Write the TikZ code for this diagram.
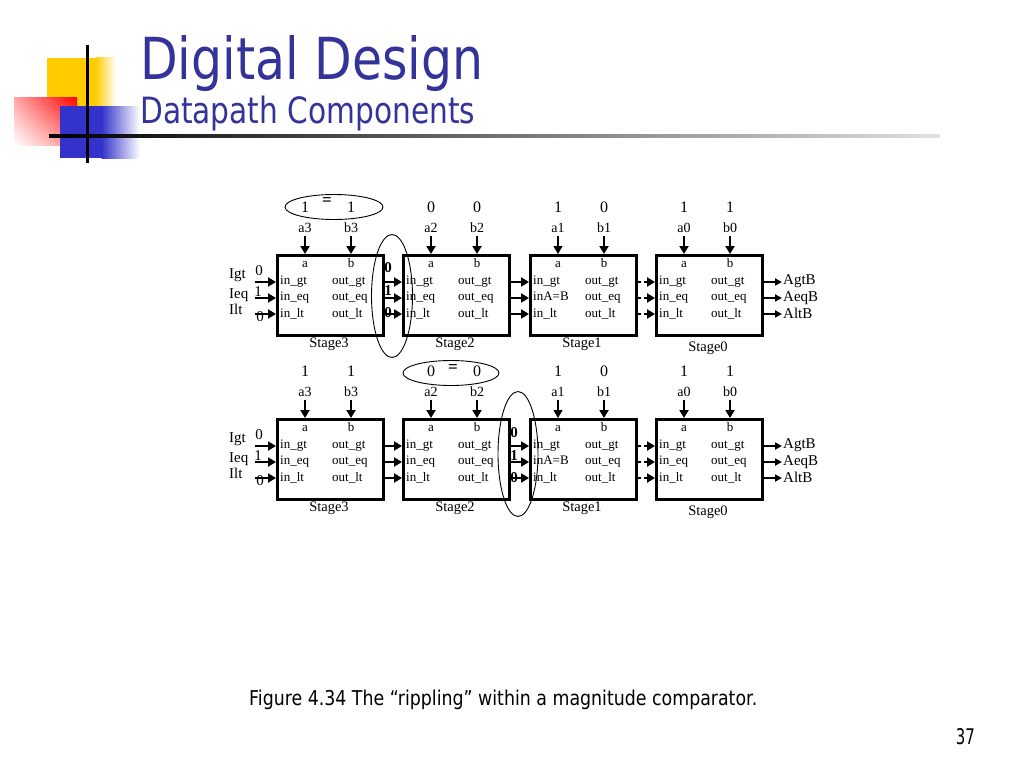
\documentclass[tikz,border=0pt]{standalone}
\usepackage{fontspec}
\setmainfont{Liberation Serif}
\newfontfamily\tahoma{DejaVu Sans}
\usetikzlibrary{arrows.meta,shapes.geometric,shadings}
\definecolor{titleblue}{RGB}{51,51,153}
\definecolor{logoyellow}{RGB}{255,204,0}
\definecolor{logoblue}{RGB}{51,51,204}
\tikzset{
  stagebox/.style={draw, line width=2.6pt, minimum width=106pt, minimum height=80pt, inner sep=0pt, anchor=north west},
  boxtxt/.style={inner sep=0pt, anchor=base west, font=\fontsize{13}{14}\selectfont},
  abtxt/.style={inner sep=0pt, anchor=base, font=\fontsize{13}{14}\selectfont},
  pinlbl/.style={inner sep=0pt, anchor=base, font=\fontsize{14}{15}\selectfont},
  valtxt/.style={inner sep=0pt, font=\fontsize{16}{17}\selectfont},
  eqsign/.style={inner sep=0pt, font=\bfseries\fontsize{17}{18}\selectfont},
  stgtxt/.style={inner sep=0pt, anchor=base, font=\fontsize{14.5}{15}\selectfont},
  iotxt/.style={inner sep=0pt, anchor=base west, font=\fontsize{15}{16}\selectfont},
  bitlbl/.style={inner sep=0pt, font=\bfseries\fontsize{15}{16}\selectfont},
  invtxt/.style={inner sep=0pt, font=\fontsize{15}{16}\selectfont},
  vin/.style={line width=2.6pt, -{Triangle[length=8pt,width=9pt]}},
  wire/.style={line width=2.8pt, -{Triangle[length=8pt,width=9pt]}},
  outwire/.style={line width=2.8pt, -{Triangle[length=7pt,width=7pt]}},
  ring/.style={ellipse, draw, line width=0.9pt, inner sep=0pt},
}
\begin{document}
\begin{tikzpicture}[x=1pt,y=-1pt]
\useasboundingbox (0,0) rectangle (1024,768);
\fill[white] (0,0) rectangle (1024,768);
% ---------- logo ----------
\fill[logoyellow] (47,58) rectangle (96,106);
\shade[left color=logoyellow, right color=white] (95.5,58) rectangle (116,106);
\shade[upper left=red!35, upper right=red, lower left=white, lower right=red!45] (14,97) rectangle (77,145);
\fill[logoblue] (60,106) rectangle (102,158);
\shade[left color=logoblue, right color=white] (101.5,106) rectangle (140,158);
\fill[black] (85.5,45) rectangle (88.5,163);
\shade[left color=black, right color=black!12] (49,134.5) rectangle (940,137.5);
% ---------- titles ----------
\node[anchor=base west, inner sep=0pt, text=titleblue] (title) at (140,80)
  {\tahoma\resizebox{343pt}{44pt}{Digital Design}};
\node[anchor=base west, inner sep=0pt, text=titleblue] (subtitle) at (140,123)
  {\tahoma\resizebox{335pt}{27.5pt}{Datapath Components}};
% ---------- stages ----------
\foreach \r/\T in {t/254,b/418}{
  \foreach \i/\L/\va/\vb/\aw/\sd in {3/276/1/1/2.6/93,2/402/0/0/2.6/93,1/529/1/0/1.2/93,0/655/1/1/2.6/97}{
    \node[stagebox] (\r\i) at (\L,\T) {};
    \node[abtxt] (\r\i a) at ({\L+29},{\T+13}) {a};
    \node[abtxt] (\r\i b) at ({\L+75},{\T+13}) {b};
    \node[boxtxt] (\r\i tig) at ({\L+4},{\T+30}) {in\_gt};
    \node[boxtxt] (\r\i tie) at ({\L+4},{\T+46}) {\ifnum\i=1 inA=B\else in\_eq\fi};
    \node[boxtxt] (\r\i til) at ({\L+4},{\T+63}) {in\_lt};
    \node[boxtxt] (\r\i tog) at ({\L+56},{\T+30}) {out\_gt};
    \node[boxtxt] (\r\i toe) at ({\L+56},{\T+46}) {out\_eq};
    \node[boxtxt] (\r\i tol) at ({\L+56},{\T+63}) {out\_lt};
    \node[stgtxt] (\r\i s) at ({\L+53},{\T+\sd}) {Stage\i};
    \node[valtxt] (\r\i va) at ({\L+29},{\T-47}) {\va};
    \node[valtxt] (\r\i vb) at ({\L+75},{\T-47}) {\vb};
    \node[pinlbl] (\r\i la) at ({\L+29},{\T-22}) {a\i};
    \node[pinlbl] (\r\i lb) at ({\L+75},{\T-22}) {b\i};
    \draw[vin, line width=\aw pt, shorten <=4pt] (\r\i la.south) -- (\r\i la.south |- \r\i.north);
    \draw[vin, shorten <=4pt] (\r\i lb.south) -- (\r\i lb.south |- \r\i.north);
    \coordinate (\r\i ig) at (\L,{\T+28});
    \coordinate (\r\i ie) at (\L,{\T+44});
    \coordinate (\r\i il) at (\L,{\T+60});
    \coordinate (\r\i og) at ({\L+106},{\T+28});
    \coordinate (\r\i oe) at ({\L+106},{\T+44});
    \coordinate (\r\i ol) at ({\L+106},{\T+60});
  }
  % chain wires
  \foreach \k in {g,e,l}{
    \draw[wire] (\r3o\k) -- (\r2i\k);
    \draw[wire] (\r2o\k) -- (\r1i\k);
    \draw[wire, dash pattern=on 6pt off 3pt] (\r1o\k) -- (\r0i\k);
  }
  % primary inputs
  \coordinate (\r Sg) at (255,{\T+28});
  \coordinate (\r Se) at (255,{\T+44});
  \coordinate (\r Sl) at (255,{\T+60});
  \foreach \k in {g,e,l}{ \draw[wire] (\r S\k) -- (\r3i\k); }
  \node[iotxt] (\r Igt) at (229,{\T+24}) {Igt};
  \node[iotxt] (\r Ieq) at (229,{\T+44}) {Ieq};
  \node[iotxt] (\r Ilt) at (229,{\T+60}) {Ilt};
  \node[invtxt] (\r Vg) at (259,{\T+17}) {0};
  \node[invtxt] (\r Ve) at (258,{\T+38}) {1};
  \node[invtxt] (\r Vl) at (260,{\T+63}) {0};
  % outputs
  \coordinate (\r Eg) at (782,{\T+28});
  \coordinate (\r Ee) at (782,{\T+44});
  \coordinate (\r El) at (782,{\T+60});
  \foreach \k in {g,e,l}{ \draw[outwire] (\r0o\k) -- (\r E\k); }
  \node[iotxt] (\r AgtB) at (783,{\T+30}) {AgtB};
  \node[iotxt] (\r AeqB) at (783,{\T+47}) {AeqB};
  \node[iotxt] (\r AltB) at (783,{\T+64}) {AltB};
}
% ---------- rippling annotations ----------
\node[ring, minimum width=98pt, minimum height=25pt] (eqt) at (334,207) {};
\node[eqsign] (eqts) at (327,202) {=};
\node[ring, minimum width=41pt, minimum height=123pt] (rt) at (392,296) {};
\node[bitlbl] (rtg) at (388,268) {0};
\node[bitlbl] (rte) at (388,291) {1};
\node[bitlbl] (rtl) at (388,313) {0};
\node[ring, minimum width=96pt, minimum height=25pt] (eqb) at (451,373) {};
\node[eqsign] (eqbs) at (453,369) {=};
\node[ring, minimum width=40pt, minimum height=125pt] (rb) at (518,454) {};
\node[bitlbl] (rbg) at (514,433) {0};
\node[bitlbl] (rbe) at (514,456) {1};
\node[bitlbl] (rbl) at (514,478) {0};
% ---------- caption & page number ----------
\node[anchor=base west, inner sep=0pt] (caption) at (249,705)
  {\tahoma\resizebox{508pt}{15.5pt}{Figure 4.34 The “rippling” within a magnitude comparator.}};
\node[anchor=base east, inner sep=0pt] (pageno) at (975,744)
  {\tahoma\resizebox{19pt}{16pt}{37}};
\end{tikzpicture}
\end{document}
